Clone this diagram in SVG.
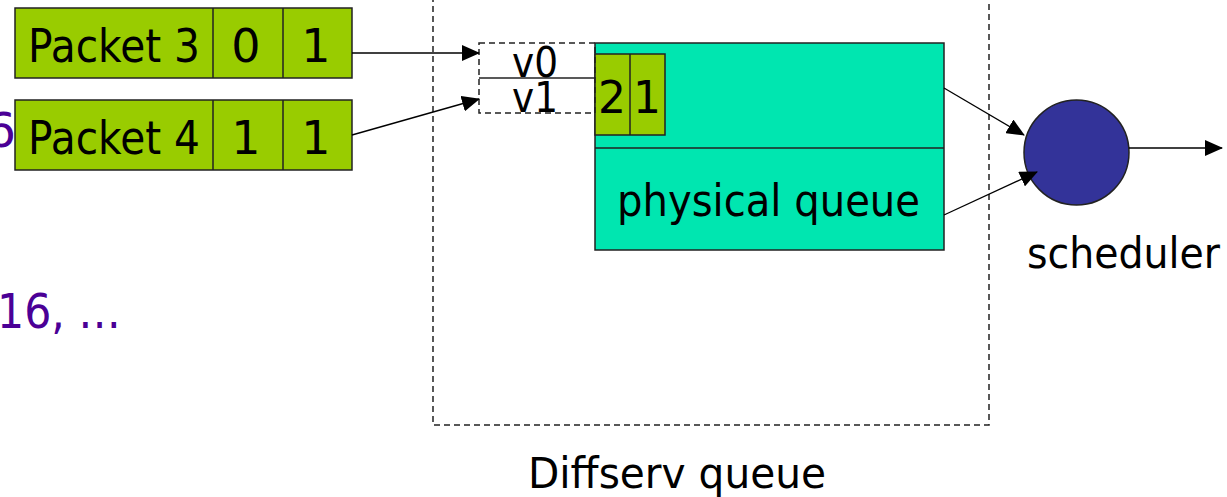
<svg xmlns="http://www.w3.org/2000/svg" width="1227" height="497" viewBox="0 0 1227 497">
<style>
.t{font-family:"DejaVu Sans","Liberation Sans",sans-serif;fill:#000}
.p{font-family:"DejaVu Sans","Liberation Sans",sans-serif;fill:#4B0096}
.g{fill:#99CC00;stroke:#222;stroke-width:1.5}
.q{fill:#00E6B0;stroke:#222;stroke-width:1.5}
.c{stroke:#000;stroke-width:1.3;fill:none}
.d{fill:none;stroke:#222;stroke-width:1.5;stroke-dasharray:6,4}
</style>
<defs>
<marker id="ah" markerUnits="userSpaceOnUse" markerWidth="18" markerHeight="16" refX="17" refY="8" orient="auto">
<path d="M0,0 L18,8 L0,16 Z" fill="#000"/>
</marker>
</defs>
<text class="p" x="16" y="147" font-size="48" text-anchor="end">6</text>
<text class="p" x="-3" y="328" font-size="48" textLength="124" lengthAdjust="spacingAndGlyphs">16, …</text>
<g id="diffserv">
<rect class="d" x="433" y="-10" width="556" height="435"/>
<text class="t" x="528" y="488" font-size="42" textLength="298" lengthAdjust="spacingAndGlyphs">Diffserv queue</text>
</g>
<g id="packet3">
<rect class="g" x="15" y="8" width="337" height="70"/>
<line x1="213" y1="8" x2="213" y2="78" stroke="#222" stroke-width="1.5"/>
<line x1="283" y1="8" x2="283" y2="78" stroke="#222" stroke-width="1.5"/>
<text class="t" x="28" y="62" font-size="46" textLength="172" lengthAdjust="spacingAndGlyphs">Packet 3</text>
<text class="t" x="246" y="62" font-size="46" text-anchor="middle">0</text>
<text class="t" x="316" y="62" font-size="46" text-anchor="middle">1</text>
</g>
<g id="packet4">
<rect class="g" x="15" y="100" width="337" height="70"/>
<line x1="213" y1="100" x2="213" y2="170" stroke="#222" stroke-width="1.5"/>
<line x1="283" y1="100" x2="283" y2="170" stroke="#222" stroke-width="1.5"/>
<text class="t" x="28" y="154" font-size="46" textLength="172" lengthAdjust="spacingAndGlyphs">Packet 4</text>
<text class="t" x="246" y="154" font-size="46" text-anchor="middle">1</text>
<text class="t" x="316" y="154" font-size="46" text-anchor="middle">1</text>
</g>
<g id="physical-queue">
<rect class="q" x="595" y="43" width="349" height="207"/>
<line x1="595" y1="148" x2="944" y2="148" stroke="#222" stroke-width="1.5"/>
<rect class="g" x="595" y="54" width="70" height="81"/>
<line x1="630" y1="54" x2="630" y2="135" stroke="#222" stroke-width="1.5"/>
<text class="t" x="612" y="113" font-size="44" text-anchor="middle">2</text>
<text class="t" x="647" y="113" font-size="44" text-anchor="middle">1</text>
<text class="t" x="617" y="216" font-size="44" textLength="303" lengthAdjust="spacingAndGlyphs">physical queue</text>
</g>
<g id="virtual-queues">
<rect class="d" x="479" y="43" width="116" height="70"/>
<line x1="479" y1="78" x2="595" y2="78" stroke="#222" stroke-width="1.5"/>
<text class="t" x="512" y="77" font-size="42" textLength="46" lengthAdjust="spacingAndGlyphs">v0</text>
<text class="t" x="512" y="112" font-size="42" textLength="46" lengthAdjust="spacingAndGlyphs">v1</text>
</g>
<g id="scheduler">
<circle cx="1076.5" cy="152.5" r="52.5" fill="#333399" stroke="#222" stroke-width="1.5"/>
<text class="t" x="1027" y="268" font-size="42" textLength="193" lengthAdjust="spacingAndGlyphs">scheduler</text>
</g>
<g id="connectors">
<line class="c" x1="352" y1="53" x2="479" y2="53" marker-end="url(#ah)"/>
<line class="c" x1="352" y1="135" x2="479" y2="99" marker-end="url(#ah)"/>
<line class="c" x1="944" y1="88" x2="1024" y2="135" marker-end="url(#ah)"/>
<line class="c" x1="944" y1="215" x2="1037" y2="172" marker-end="url(#ah)"/>
<line class="c" x1="1129" y1="148" x2="1222" y2="148" marker-end="url(#ah)"/>
</g>
</svg>
